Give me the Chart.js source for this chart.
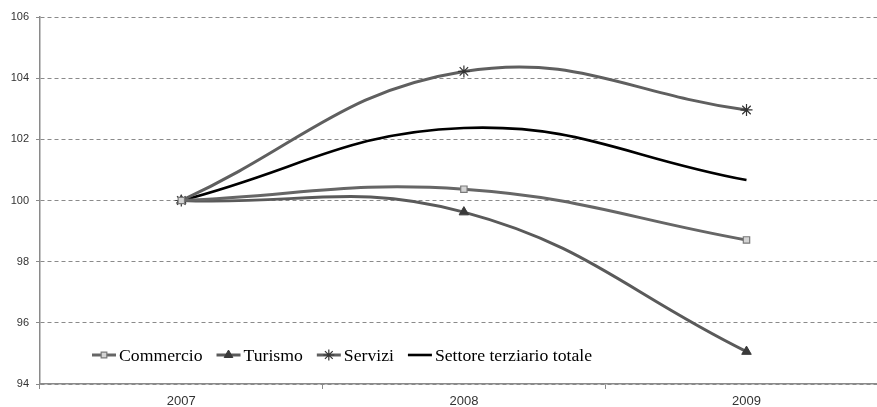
<!DOCTYPE html>
<html>
<head>
<meta charset="utf-8">
<script src="https://cdn.jsdelivr.net/npm/chart.js@4/dist/chart.umd.min.js"></script>
<style>
  html, body { margin: 0; padding: 0; background: #fff; overflow: hidden; width: 877px; height: 407px; }
  #wrap { position: relative; width: 895px; height: 407px; }
  #c { display: block; width: 895px; height: 407px; }
</style>
</head>
<body>
<div id="wrap"><canvas id="c" width="895" height="407"></canvas></div>
<script>
// Indici (2007 = 100)
const anni = ['2007', '2008', '2009'];
const commercio = [100, 100.37, 98.71];
const turismo = [100, 99.62, 95.06];
const servizi = [100, 104.22, 102.96];
const terziarioTotale = [100, 102.37, 100.67];
const yTicks = [94, 96, 98, 100, 102, 104, 106];

// Legend drawn inside the plot area, bottom-left
const insideLegend = {
  id: 'insideLegend',
  afterDraw(chart) {
    const ctx = chart.ctx;
    ctx.save();
    ctx.font = '17.7px "Liberation Serif", "Times New Roman", serif';
    ctx.textBaseline = 'middle';
    let x = 92;
    const y = 355;
    chart.data.datasets.forEach(ds => {
      ctx.strokeStyle = ds.borderColor;
      ctx.lineWidth = ds.borderWidth;
      ctx.setLineDash([]);
      ctx.beginPath();
      ctx.moveTo(x, y);
      ctx.lineTo(x + 24, y);
      ctx.stroke();
      if (ds.pointStyle && ds.pointRadius > 0) {
        ctx.fillStyle = ds.pointBackgroundColor;
        ctx.strokeStyle = ds.pointBorderColor;
        ctx.lineWidth = ds.pointBorderWidth;
        Chart.helpers.drawPoint(ctx, { pointStyle: ds.pointStyle, radius: ds.pointRadius - 0.5, borderWidth: ds.pointBorderWidth, rotation: 0 }, x + 12, y);
      }
      ctx.fillStyle = '#000';
      ctx.fillText(ds.label, x + 27, y + 1);
      x += 27 + ctx.measureText(ds.label).width + 14;
    });
    ctx.restore();
  }
};

new Chart(document.getElementById('c'), {
  type: 'line',
  data: {
    labels: anni,
    datasets: [
      {
        label: 'Commercio', data: commercio,
        borderColor: '#666666', borderWidth: 3, tension: 0.42,
        pointStyle: 'rect', pointRadius: 4.5,
        pointBackgroundColor: '#d4d4d4', pointBorderColor: '#7a7a7a', pointBorderWidth: 1.2
      },
      {
        label: 'Turismo', data: turismo,
        borderColor: '#5a5a5a', borderWidth: 3, tension: 0.42,
        pointStyle: 'triangle', pointRadius: 5.5,
        pointBackgroundColor: '#3a3a3a', pointBorderColor: '#3a3a3a', pointBorderWidth: 1
      },
      {
        label: 'Servizi', data: servizi,
        borderColor: '#5f5f5f', borderWidth: 3, tension: 0.42,
        pointStyle: 'star', pointRadius: 6,
        pointBackgroundColor: '#333333', pointBorderColor: '#333333', pointBorderWidth: 1.2
      },
      {
        label: 'Settore terziario totale', data: terziarioTotale,
        borderColor: '#000000', borderWidth: 2.6, tension: 0.42,
        pointRadius: 0, pointStyle: false
      }
    ]
  },
  options: {
    responsive: false,
    maintainAspectRatio: false,
    animation: false,
    layout: { padding: { top: 17, right: 0, bottom: 0, left: 0 } },
    plugins: { legend: { display: false }, tooltip: { enabled: false } },
    scales: {
      x: {
        offset: true,
        grid: { drawOnChartArea: false, offset: true, tickLength: 5, color: '#8a8a8a' },
        border: { display: true, color: '#8a8a8a', width: 1.5 },
        ticks: { color: '#333', font: { family: '"Liberation Sans", Arial, sans-serif', size: 13 }, padding: 5 },
        afterFit(scale) { scale.height = 23; scale.paddingLeft = 0; scale.paddingRight = 0; }
      },
      y: {
        min: 94, max: 106,
        afterBuildTicks(scale) { scale.ticks = yTicks.map(v => ({ value: v })); },
        grid: { color: '#8a8a8a', lineWidth: 1, tickLength: 4, drawTicks: true, tickBorderDash: [] },
        border: { display: true, color: '#8a8a8a', width: 1.5, dash: [4, 3] },
        ticks: { color: '#333', font: { family: '"Liberation Sans", Arial, sans-serif', size: 11 }, padding: 7 },
        afterFit(scale) { scale.width = 40; }
      }
    }
  },
  plugins: [insideLegend]
});
</script>
</body>
</html>
